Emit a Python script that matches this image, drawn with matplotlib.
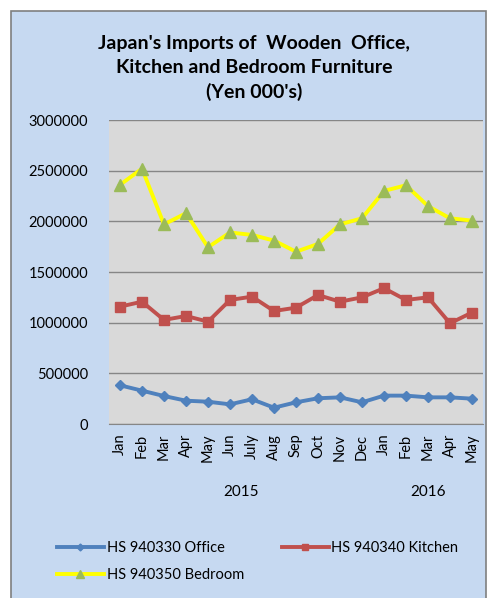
import matplotlib.pyplot as plt
from matplotlib.patches import Rectangle

# data
Months = ['Jan','Feb','Mar','Apr','May','Jun','July','Aug','Sep','Oct','Nov','Dec',
          'Jan','Feb','Mar','Apr','May']
Years = ['2015','2016']
Office = [382000,329000,276000,230000,220000,194000,244000,161000,214000,254000,
          263000,214000,280000,280000,263000,263000,250000]
Kitchen = [1158000,1207000,1027000,1066000,1010000,1224000,1257000,1115000,1148000,
           1273000,1207000,1250000,1340000,1224000,1250000,994000,1100000]
Bedroom = [2360000,2520000,1970000,2080000,1744000,1890000,1866000,1810000,1700000,
           1777000,1970000,2030000,2300000,2356000,2150000,2030000,2007000]

FontType = ['Lato','DejaVu Sans']
BoxColor = '#C6D9F1'
Colors = ['#4F81BD','#C0504D','#FFFF00']

fig = plt.figure(figsize = (4.89,5.98),dpi = 100)
fig.patch.set_facecolor('white')
fig.add_artist(Rectangle((11/489,-0.01),(486-11)/489,(598-11)/598+0.01,transform = fig.transFigure,
                         facecolor = BoxColor,edgecolor = '#7F7F7F',linewidth = 1.2,zorder = -5))

ax = fig.add_axes([109/489,1-424/598,374/489,304/598])
ax.set_facecolor('#D9D9D9')
x = list(range(len(Months)))

l1, = ax.plot(x,Office,c = Colors[0],lw = 2.8,marker = 'D',ms = 5,label = 'HS 940330 Office')
l2, = ax.plot(x,Kitchen,c = Colors[1],lw = 2.8,marker = 's',ms = 7,label = 'HS 940340 Kitchen')
l3, = ax.plot(x,Bedroom,c = Colors[2],lw = 2.8,marker = '^',ms = 8,mfc = '#9BBB59',mec = '#9BBB59',
              label = 'HS 940350 Bedroom')

ax.set_xlim(-0.5,len(Months)-0.5)
ax.set_ylim(0,3000000)
ax.set_yticks(range(0,3000001,500000))
ax.set_yticklabels([str(v) for v in range(0,3000001,500000)],fontsize = 10.5,fontname = FontType[0])
ax.set_xticks(x)
ax.set_xticklabels(Months,rotation = 90,fontsize = 10.5,fontname = FontType[0])
ax.tick_params(length = 0)
ax.tick_params(axis = 'y',pad = 15)
ax.tick_params(axis = 'x',pad = 7)
ax.yaxis.grid(True,color = '#868686',lw = 1)
ax.set_axisbelow(True)
for s in ['top','right','left']:
    ax.spines[s].set_visible(False)
ax.spines['bottom'].set_color('#868686')

# year labels under the month labels
ax.text(5.5,-0.225,Years[0],transform = ax.get_xaxis_transform(),ha = 'center',va = 'center',
        fontsize = 11,fontname = FontType[0])
ax.text(14,-0.225,Years[1],transform = ax.get_xaxis_transform(),ha = 'center',va = 'center',
        fontsize = 11,fontname = FontType[0])

fig.text(254/489,1-68/598,"Japan's Imports of  Wooden  Office,\nKitchen and Bedroom Furniture\n(Yen 000's)",
         ha = 'center',va = 'center',fontsize = 14,fontweight = 'bold',fontname = FontType[0],
         linespacing = 1.5)

fig.legend([l1,l3,l2],[l1.get_label(),l3.get_label(),l2.get_label()],ncol = 2,frameon = False,
           loc = 'upper left',bbox_to_anchor = (44/489,1-528/598),handlelength = 3.2,handletextpad = 0.2,
           columnspacing = 2.6,labelspacing = 0.9,markerscale = 0.7,prop = {'family':FontType[0],'size':10.5})

plt.savefig('out.png',dpi = 100)
